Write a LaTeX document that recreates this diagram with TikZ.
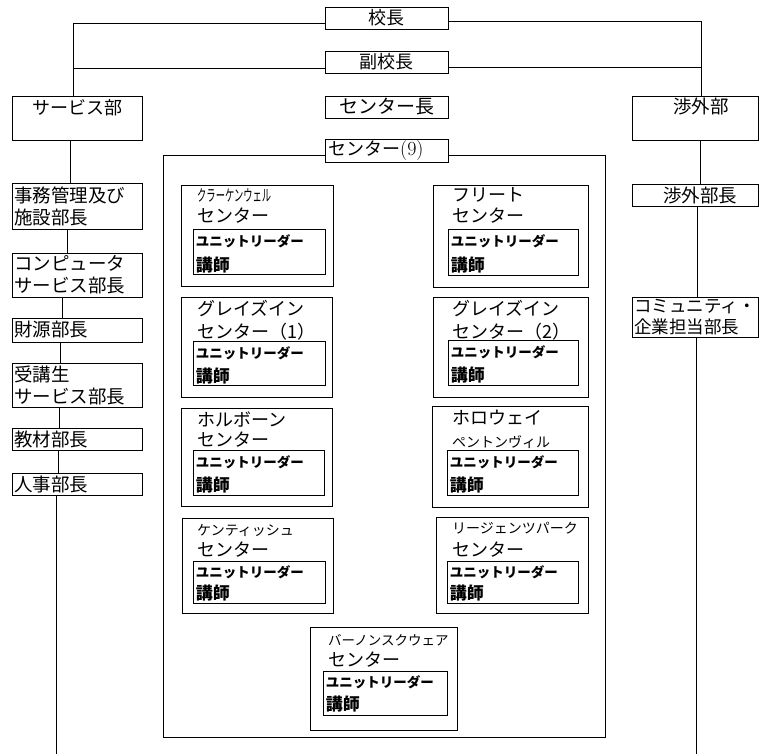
\documentclass[tikz,border=0pt]{standalone}
\usepackage{fontspec}
\usepackage{graphicx}
\newfontfamily\jp{Noto Sans CJK JP}
\usetikzlibrary{fit}
\begin{document}
\begin{tikzpicture}[x=1pt,y=-1pt,
  box/.style={draw, line width=0.8pt, inner sep=0pt, fill=white},
  bigbox/.style={draw, line width=0.8pt, inner sep=0pt},
  conn/.style={draw, line width=0.7pt},
  lbl/.style={inner sep=0pt, anchor=west, font=\jp\fontsize{#1}{#1}\selectfont},
  clbl/.style={inner sep=0pt, anchor=center, font=\jp\fontsize{#1}{#1}\selectfont},
  two/.style={inner sep=0pt, anchor=west, align=left, font=\jp\fontsize{18.5}{22}\selectfont},
  twos/.style={inner sep=0pt, anchor=west, align=left, font=\jp\fontsize{17.5}{21}\selectfont},
  ul/.style={inner sep=0pt, anchor=west, font=\jp\bfseries\fontsize{13.5}{13.5}\selectfont},
  lec/.style={inner sep=0pt, anchor=west, font=\jp\bfseries\fontsize{17}{17}\selectfont},
]
\useasboundingbox (0,0) rectangle (759,754);

% top chain
\node[box, fit={(325,7) (448,29)}] (principal) {};
\node[clbl=18] at (principal) {校長};
\node[box, fit={(325,51) (448,73)}] (vice) {};
\node[clbl=18] at (vice) {副校長};
\node[box, fit={(325,96) (448,118)}] (chead) {};
\node[clbl=19] at (chead) {センター長};

% big centres frame
\node[bigbox, fit={(163,155) (605,737)}] (centres) {};
\node[box, fit={(325,139) (448,162)}] (cnine) {};
\node[lbl=18] at (328,151) {センター{\rmfamily\fontsize{20}{20}\selectfont(9)}};

% departments
\node[box, fit={(12,96) (142,140)}] (service) {};
\node[clbl=18] at (77,108) {サービス部};
\node[box, fit={(632,96) (758,140)}] (liaison) {};
\node[clbl=18.5] at (701,106) {渉外部};

% connectors top
\coordinate (tl) at (73,23);
\coordinate (tr) at (701,21);
\coordinate (ml) at (73,68);
\coordinate (mr) at (701,67);
\draw[conn] (principal.west |- tl) -- (tl) -- (service.north -| tl);
\draw[conn] (principal.east |- tr) -- (tr) -- (liaison.north -| tr);
\draw[conn] (vice.west |- ml) -- (ml);
\draw[conn] (vice.east |- mr) -- (mr);

% left column
\node[box, fit={(12,183) (142,229)}] (admin) {};
\node[two] at (14,206) {事務管理及び\\施設部長};
\node[box, fit={(12,253) (142,297)}] (computer) {};
\node[two] at (14,275) {コンピュータ\\サービス部長};
\node[box, fit={(12,318) (142,342)}] (finance) {};
\node[lbl=18.5] at (14,330) {財源部長};
\node[box, fit={(12,363) (142,407)}] (student) {};
\node[two] at (14,385) {受講生\\サービス部長};
\node[box, fit={(12,428) (142,450)}] (materials) {};
\node[lbl=18.5] at (14,439) {教材部長};
\node[box, fit={(12,473) (142,495)}] (hr) {};
\node[lbl=18.5] at (14,484) {人事部長};

\coordinate (a1) at (70,0);
\coordinate (a2) at (67,0);
\coordinate (a3) at (62,0);
\coordinate (a4) at (60,0);
\coordinate (a5) at (59,0);
\coordinate (a6) at (58,0);
\coordinate (lb) at (56,754);
\draw[conn] (service.south -| a1) -- (admin.north -| a1);
\draw[conn] (admin.south -| a2) -- (computer.north -| a2);
\draw[conn] (computer.south -| a3) -- (finance.north -| a3);
\draw[conn] (finance.south -| a4) -- (student.north -| a4);
\draw[conn] (student.south -| a5) -- (materials.north -| a5);
\draw[conn] (materials.south -| a6) -- (hr.north -| a6);
\draw[conn] (hr.south -| lb) -- (lb);

% right column
\node[box, fit={(632,184) (758,206)}] (lhead) {};
\node[clbl=18.5] at (700,195) {渉外部長};
\node[box, fit={(632,297) (758,337)}] (community) {};
\node[twos] at (634,317) {コミュニティ・\\企業担当部長};
\coordinate (r1) at (700,0);
\coordinate (r2) at (697,0);
\coordinate (rb) at (696,754);
\draw[conn] (liaison.south -| r1) -- (lhead.north -| r1);
\draw[conn] (lhead.south -| r2) -- (community.north -| r2);
\draw[conn] (community.south -| rb) -- (rb);

% Clerkenwell
\node[box, fit={(181,185) (333,286)}] (clk) {};
\node[box, fit={(193,229) (325,274)}] (clkU) {};
\node[lbl=16] at (197,195) {\scalebox{0.58}[1]{クラーケンウェル}};
\node[lbl=18] at (197,216) {センター};
\node[ul] at ([xshift=3pt,yshift=-13pt]clkU.north west) {ユニットリーダー};
\node[lec] at ([xshift=3pt,yshift=-36pt]clkU.north west) {講師};

% Fleet
\node[box, fit={(433,185) (588,287)}] (flt) {};
\node[box, fit={(448,229) (578,275)}] (fltU) {};
\node[lbl=18] at (452,195) {フリート};
\node[lbl=18] at (452,216) {センター};
\node[ul] at ([xshift=3pt,yshift=-13pt]fltU.north west) {ユニットリーダー};
\node[lec] at ([xshift=3pt,yshift=-36pt]fltU.north west) {講師};

% Gray's Inn 1
\node[box, fit={(181,297) (332,397)}] (gi1) {};
\node[box, fit={(193,341) (325,385)}] (gi1U) {};
\node[lbl=18] at (197,308) {グレイズイン};
\node[lbl=18] at (197,332) {センター（1）};
\node[ul] at ([xshift=3pt,yshift=-13pt]gi1U.north west) {ユニットリーダー};
\node[lec] at ([xshift=3pt,yshift=-35pt]gi1U.north west) {講師};

% Gray's Inn 2
\node[box, fit={(433,297) (588,397)}] (gi2) {};
\node[box, fit={(448,340) (578,385)}] (gi2U) {};
\node[lbl=18] at (452,308) {グレイズイン};
\node[lbl=18] at (452,332) {センター（2）};
\node[ul] at ([xshift=3pt,yshift=-13pt]gi2U.north west) {ユニットリーダー};
\node[lec] at ([xshift=3pt,yshift=-35pt]gi2U.north west) {講師};

% Holborn
\node[box, fit={(181,408) (332,506)}] (hol) {};
\node[box, fit={(193,450) (324,495)}] (holU) {};
\node[lbl=18] at (197,420) {ホルボーン};
\node[lbl=18] at (197,440) {センター};
\node[ul] at ([xshift=3pt,yshift=-13pt]holU.north west) {ユニットリーダー};
\node[lec] at ([xshift=3pt,yshift=-35pt]holU.north west) {講師};

% Holloway
\node[box, fit={(432,406) (588,507)}] (hlw) {};
\node[box, fit={(447,450) (578,495)}] (hlwU) {};
\node[lbl=18] at (452,418) {ホロウェイ};
\node[lbl=14] at (452,442) {ペントンヴィル};
\node[ul] at ([xshift=3pt,yshift=-13pt]hlwU.north west) {ユニットリーダー};
\node[lec] at ([xshift=3pt,yshift=-35pt]hlwU.north west) {講師};

% Kentish
\node[box, fit={(182,518) (333,613)}] (ken) {};
\node[box, fit={(193,561) (325,603)}] (kenU) {};
\node[lbl=14] at (197,530) {ケンティッシュ};
\node[lbl=18] at (197,550) {センター};
\node[ul] at ([xshift=3pt,yshift=-12pt]kenU.north west) {ユニットリーダー};
\node[lec] at ([xshift=3pt,yshift=-32pt]kenU.north west) {講師};

% Regent's Park
\node[box, fit={(436,517) (588,613)}] (reg) {};
\node[box, fit={(447,561) (578,603)}] (regU) {};
\node[lbl=14] at (452,528) {リージェンツパーク};
\node[lbl=18] at (452,550) {センター};
\node[ul] at ([xshift=3pt,yshift=-12pt]regU.north west) {ユニットリーダー};
\node[lec] at ([xshift=3pt,yshift=-32pt]regU.north west) {講師};

% Vernon Square
\node[box, fit={(310,627) (457,730)}] (ver) {};
\node[box, fit={(323,671) (447,715)}] (verU) {};
\node[lbl=13.5] at (328,640) {バーノンスクウェア};
\node[lbl=18] at (328,660) {センター};
\node[ul] at ([xshift=3pt,yshift=-12pt]verU.north west) {ユニットリーダー};
\node[lec] at ([xshift=3pt,yshift=-33pt]verU.north west) {講師};
\end{tikzpicture}
\end{document}
